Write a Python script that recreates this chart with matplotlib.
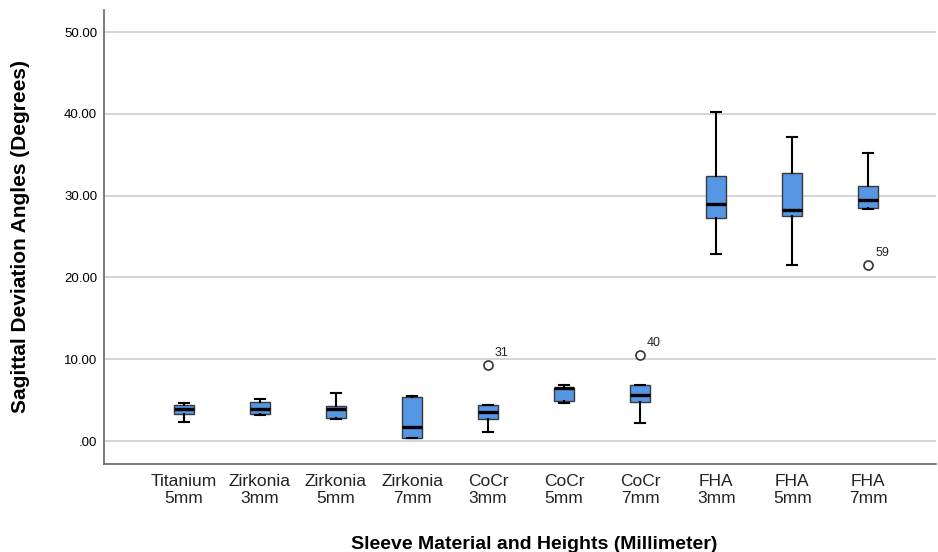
import matplotlib
matplotlib.use("Agg")
import matplotlib.pyplot as plt

plt.rcParams["font.family"] = ["Liberation Sans", "DejaVu Sans"]

categories = ["Titanium\n5mm", "Zirkonia\n3mm", "Zirkonia\n5mm", "Zirkonia\n7mm",
              "CoCr\n3mm", "CoCr\n5mm", "CoCr\n7mm", "FHA\n3mm", "FHA\n5mm", "FHA\n7mm"]
whisker_low  = [2.32, 3.25, 2.72, 0.35, 1.14, 4.64, 2.20, 22.82, 21.56, 28.40]
q1           = [3.30, 3.30, 2.85, 0.37, 2.65, 4.92, 4.84, 27.30, 27.50, 28.44]
median       = [3.91, 3.94, 3.91, 1.67, 3.50, 6.45, 5.61, 28.92, 28.19, 29.50]
q3           = [4.36, 4.72, 4.27, 5.37, 4.39, 6.55, 6.87, 32.46, 32.74, 31.21]
whisker_high = [4.60, 5.13, 5.94, 5.53, 4.39, 6.87, 6.87, 40.24, 37.14, 35.18]
outliers     = [[], [], [], [], [9.31], [], [10.53], [], [], [21.52]]
outlier_ids  = [[], [], [], [], ["31"], [], ["40"], [], [], ["59"]]
yticks = [0, 10, 20, 30, 40, 50]

fig = plt.figure(figsize=(9.38, 5.52), dpi=100)
ax = fig.add_axes([0.1109, 0.1594, 0.887, 0.8226])

stats = []
for i in range(len(categories)):
    stats.append(dict(med=median[i], q1=q1[i], q3=q3[i],
                      whislo=whisker_low[i], whishi=whisker_high[i],
                      fliers=outliers[i], label=categories[i]))

positions = list(range(1, len(categories) + 1))
ax.bxp(stats, positions=positions, widths=0.26, patch_artist=True,
       boxprops=dict(facecolor="#5596e5", edgecolor="#3a3a3a", linewidth=1.0),
       medianprops=dict(color="black", linewidth=2.4),
       whiskerprops=dict(color="black", linewidth=1.5),
       capprops=dict(color="black", linewidth=1.5),
       capwidths=0.13,
       flierprops=dict(marker="o", markersize=6.5, markerfacecolor="white",
                       markeredgecolor="#333333", markeredgewidth=1.2),
       zorder=3)

for i, (vals, ids) in enumerate(zip(outliers, outlier_ids)):
    for v, lab in zip(vals, ids):
        ax.annotate(lab, (positions[i], v), xytext=(5, 4), textcoords="offset points",
                    fontsize=9, color="#222222", ha="left", va="bottom")

ax.set_xlim(-0.05, 10.89)
ax.set_ylim(-2.8, 52.7)
ax.set_yticks(yticks)
ax.set_yticklabels([(f"{v:.2f}" if v != 0 else ".00") for v in yticks], fontsize=9.5)
ax.set_xticks(positions)
ax.set_xticklabels(categories, fontsize=12.5, color="#222222", linespacing=1.15)
ax.tick_params(axis="both", length=0, pad=5)
ax.tick_params(axis="x", pad=7)
ax.yaxis.grid(True, color="#d4d4d4", linewidth=1.4, zorder=0)
ax.set_axisbelow(True)
for s in ["top", "right"]:
    ax.spines[s].set_visible(False)
for s in ["left", "bottom"]:
    ax.spines[s].set_color("#666666")
    ax.spines[s].set_linewidth(1.2)

ax.set_ylabel("Sagittal Deviation Angles (Degrees)", fontsize=15, fontweight="bold", labelpad=24)
ax.set_xlabel("Sleeve Material and Heights (Millimeter)", fontsize=14, fontweight="bold")
ax.xaxis.set_label_coords(0.517, -0.158)

fig.savefig("out.png", dpi=100)
